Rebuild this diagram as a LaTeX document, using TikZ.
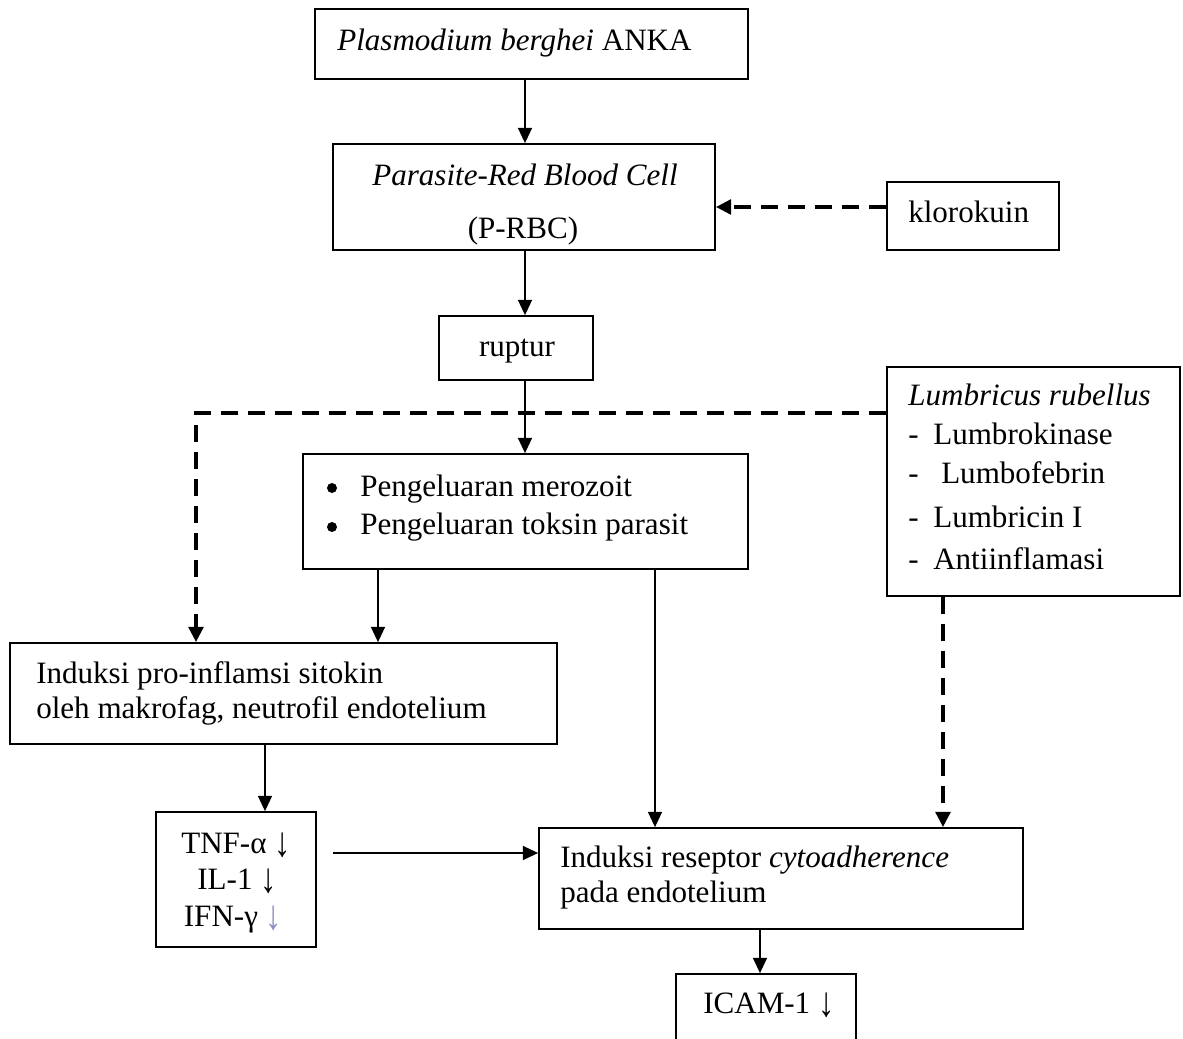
\documentclass[tikz,border=0pt]{standalone}
\usepackage{fontspec}
\setmainfont{Liberation Serif}
\usetikzlibrary{arrows.meta}
\definecolor{arrgray}{RGB}{140,140,195}
\newcommand{\dnarrow}{\smash{\raisebox{-0.1em}{\scalebox{1.05}[1.35]{↓}}}}
\begin{document}
\begin{tikzpicture}[x=0.75pt,y=-0.75pt,
  font=\fontsize{23.3pt}{28.5pt}\selectfont,
  box/.style 2 args={draw, line width=1.3pt, inner sep=0pt,
     minimum width=#1*0.75pt, minimum height=#2*0.75pt},
  txt/.style={inner sep=0pt, anchor=base west},
  ctxt/.style={inner sep=0pt, anchor=base},
  bul/.style={circle, fill, inner sep=0pt, minimum size=7.5pt},
  arr/.style={line width=1.3pt, -{Triangle[length=11.5pt,width=10.5pt]}},
  darr/.style={line width=3pt, dash pattern=on 12.75pt off 7.5pt,
     -{Triangle[length=11.5pt,width=11pt]}}]
\useasboundingbox (0,0) rectangle (1183,1039);
\clip (0,0) rectangle (1183,1039);
% boxes
\node[box={433}{70}]  (plas)  at (531.5,44) {};
\node[box={382}{106}] (prbc)  at (524,197) {};
\node[box={172}{68}]  (kloro) at (973,216) {};
\node[box={154}{64}]  (rup)   at (516,348) {};
\node[box={293}{229}] (lumb)  at (1033.5,481.5) {};
\node[box={445}{115}] (peng)  at (525.5,511.5) {};
\node[box={547}{101}] (pro)   at (283.5,693.5) {};
\node[box={160}{135}] (tnf)   at (236,879.5) {};
\node[box={484}{101}] (res)   at (781,878.5) {};
\node[box={180}{86}]  (icam)  at (766,1017) {};
% texts
\node[txt] (plast) at (337,50) {\textit{Plasmodium berghei} ANKA};
\node[ctxt] (prbct1) at (525,185) {\textit{Parasite-Red Blood Cell}};
\node[ctxt] (prbct2) at (523,238) {(P-RBC)};
\node[txt] (klorot) at (908,222) {klorokuin};
\node[ctxt] (rupt) at (517,356) {ruptur};
\node[txt] (lumb0) at (908,405) {\textit{Lumbricus rubellus}};
\node[txt] (lumb1) at (908,444) {-\hspace{11pt}Lumbrokinase};
\node[txt] (lumb2) at (908,483) {-\hspace{17pt}Lumbofebrin};
\node[txt] (lumb3) at (908,527) {-\hspace{11pt}Lumbricin I};
\node[txt] (lumb4) at (908,569) {-\hspace{11pt}Antiinflamasi};
\node[bul] (pengb1) at (332,488) {};
\node[bul] (pengb2) at (332,527) {};
\node[txt] (pengt1) at (360,496) {Pengeluaran merozoit};
\node[txt] (pengt2) at (360,534) {Pengeluaran toksin parasit};
\node[txt] (prot1) at (36,683) {Induksi pro-inflamsi sitokin};
\node[txt] (prot2) at (36,718) {oleh makrofag, neutrofil endotelium};
\node[ctxt] (tnft1) at (236,853) {TNF-α \dnarrow};
\node[ctxt] (tnft2) at (237,889) {IL-1 \dnarrow};
\node[ctxt] (tnft3) at (233,926) {IFN-γ \textcolor{arrgray}{\dnarrow}};
\node[txt] (rest1) at (560,867) {Induksi reseptor \textit{cytoadherence}};
\node[txt] (rest2) at (560,902) {pada endotelium};
\node[txt] (icamt) at (703,1013) {ICAM-1 \dnarrow};
% helper coordinates
\coordinate (spine) at (525,0);
\coordinate (ky) at (0,207);
\coordinate (dy) at (0,413);
\coordinate (dx) at (196,0);
\coordinate (c378) at (378,0);
\coordinate (c655) at (655,0);
\coordinate (c943) at (943,0);
\coordinate (c265) at (265,0);
\coordinate (c760) at (760,0);
\coordinate (hstart) at (333,853);
% connectors
\draw[arr] (plas.south -| spine) -- (prbc.north -| spine);
\draw[darr] (kloro.west |- ky) -- (prbc.east |- ky);
\draw[arr] (prbc.south -| spine) -- (rup.north -| spine);
\draw[arr] (rup.south -| spine) -- (peng.north -| spine);
\draw[darr] (lumb.west |- dy) -| (pro.north -| dx);
\draw[arr] (peng.south -| c378) -- (pro.north -| c378);
\draw[arr] (peng.south -| c655) -- (res.north -| c655);
\draw[darr] (lumb.south -| c943) -- (res.north -| c943);
\draw[arr] (pro.south -| c265) -- (tnf.north -| c265);
\draw[arr] (hstart) -- (hstart -| res.west);
\draw[arr] (res.south -| c760) -- (icam.north -| c760);
\end{tikzpicture}
\end{document}
